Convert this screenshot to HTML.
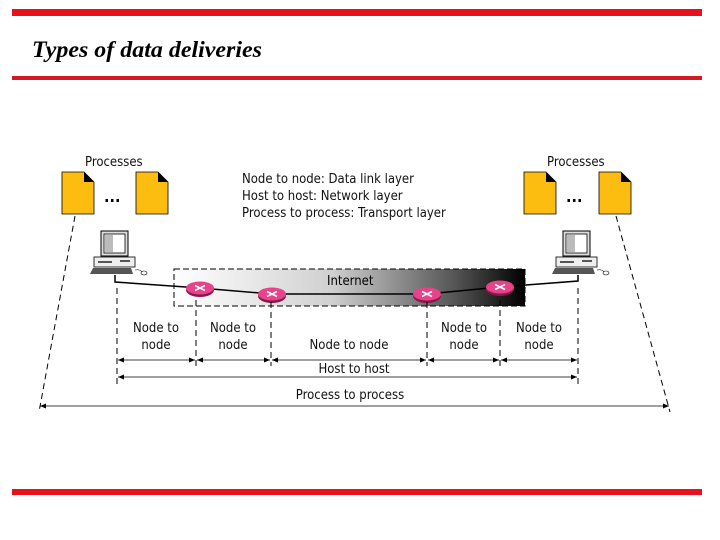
<!DOCTYPE html>
<html><head><meta charset="utf-8"><style>
body{margin:0;background:#fff;width:720px;height:540px;overflow:hidden}
svg{display:block}
</style></head><body>
<svg width="720" height="540" viewBox="0 0 720 540" xmlns="http://www.w3.org/2000/svg" font-family="'DejaVu Sans Condensed','Liberation Sans Narrow','Liberation Sans',sans-serif">
<defs>
<linearGradient id="g" x1="0" x2="1" y1="0" y2="0">
<stop offset="0" stop-color="#fff"/><stop offset="0.45" stop-color="#d0d0d0"/><stop offset="0.8" stop-color="#555"/><stop offset="1" stop-color="#000"/></linearGradient>
<marker id="a" markerWidth="6" markerHeight="6" refX="6" refY="3" orient="auto-start-reverse" markerUnits="userSpaceOnUse"><path d="M0,0.5 L6,3 L0,5.5 z" fill="#000"/></marker>
<g id="doc"><path d="M0,0 H22 L32,10 V42 H0 Z" fill="#fdbd10" stroke="#000" stroke-width="0.8"/><path d="M22,0 L32,10 H22 Z" fill="#000"/></g>
<g id="pc">
<rect x="11" y="1" width="27" height="25" fill="#ddd" stroke="#000"/><rect x="14" y="4" width="21" height="19" fill="#fff" stroke="#000" stroke-width="0.8"/><rect x="15" y="5" width="8" height="17" fill="#bbb"/>
<rect x="4" y="27" width="41" height="10" fill="#eee" stroke="#000" stroke-width="0.8"/><rect x="8" y="31" width="14" height="2" fill="#555"/><rect x="30" y="30" width="10" height="2" fill="#555"/>
<path d="M3,38 H41 L43,44 H0 Z" fill="#555"/><ellipse cx="54" cy="43" rx="3" ry="2" fill="#fff" stroke="#000" stroke-width="0.6"/><path d="M45,40 Q50,39 52,42" fill="none" stroke="#000" stroke-width="0.6"/>
</g>
<g id="r"><ellipse cx="0" cy="2" rx="14" ry="7" fill="#8a1848"/><ellipse cx="0" cy="0" rx="14" ry="6.5" fill="#e8428a"/><path d="M-5,-2.5 L5,2.5 M-5,2.5 L5,-2.5" stroke="#fff" stroke-width="1.6"/></g>
</defs>
<rect x="12" y="9" width="690" height="7" fill="#e8101a"/>
<rect x="12" y="76" width="690" height="4" fill="#d41a20"/>
<rect x="12" y="489" width="690" height="6" fill="#e8101a"/>
<text x="32" y="57" font-family="'Liberation Serif',serif" font-style="italic" font-weight="bold" font-size="23" textLength="230" lengthAdjust="spacingAndGlyphs">Types of data deliveries</text>

<g font-size="13" fill="#111">
<text x="85" y="166">Processes</text>
<text x="547" y="166">Processes</text>
<text x="242" y="183">Node to node: Data link layer</text>
<text x="242" y="200">Host to host: Network layer</text>
<text x="242" y="217">Process to process: Transport layer</text>
</g>
<use href="#doc" x="62" y="172"/><use href="#doc" x="136" y="172"/>
<use href="#doc" x="524" y="172"/><use href="#doc" x="599" y="172"/>
<text x="104" y="202" font-size="16" font-weight="bold">...</text>
<text x="566" y="202" font-size="16" font-weight="bold">...</text>
<use href="#pc" x="90" y="230"/><use href="#pc" x="552" y="230"/>

<rect x="174" y="269" width="351" height="37" fill="url(#g)" stroke="#000" stroke-dasharray="6,3"/>
<text x="327" y="285" font-size="13">Internet</text>
<polyline points="115,275 115,282 200,288 272,294 427,294 500,287 578,281 578,275" fill="none" stroke="#000" stroke-width="1.5"/>
<use href="#r" x="200" y="288"/><use href="#r" x="272" y="294"/><use href="#r" x="427" y="294"/><use href="#r" x="500" y="287"/>

<g stroke="#000" stroke-dasharray="6,4" fill="none">
<line x1="117" y1="288" x2="117" y2="386"/>
<line x1="578" y1="288" x2="578" y2="386"/>
<line x1="196" y1="300" x2="196" y2="366"/>
<line x1="271" y1="302" x2="271" y2="366"/>
<line x1="427" y1="302" x2="427" y2="366"/>
<line x1="500" y1="300" x2="500" y2="366"/>
<line x1="75" y1="216" x2="39" y2="412"/>
<line x1="616" y1="216" x2="670" y2="412"/>
</g>
<g stroke="#000" stroke-width="0.8" marker-start="url(#a)" marker-end="url(#a)">
<line x1="118" y1="360" x2="195" y2="360"/>
<line x1="197" y1="360" x2="270" y2="360"/>
<line x1="272" y1="360" x2="426" y2="360"/>
<line x1="428" y1="360" x2="499" y2="360"/>
<line x1="501" y1="360" x2="577" y2="360"/>
<line x1="118" y1="377" x2="577" y2="377"/>
<line x1="40" y1="406" x2="669" y2="406"/>
</g>
<g font-size="13" text-anchor="middle" fill="#111">
<text x="156" y="332">Node to</text><text x="156" y="349">node</text>
<text x="233" y="332">Node to</text><text x="233" y="349">node</text>
<text x="349" y="349">Node to node</text>
<text x="464" y="332">Node to</text><text x="464" y="349">node</text>
<text x="539" y="332">Node to</text><text x="539" y="349">node</text>
<text x="354" y="373">Host to host</text>
<text x="350" y="399">Process to process</text>
</g>
</svg>
</body></html>
